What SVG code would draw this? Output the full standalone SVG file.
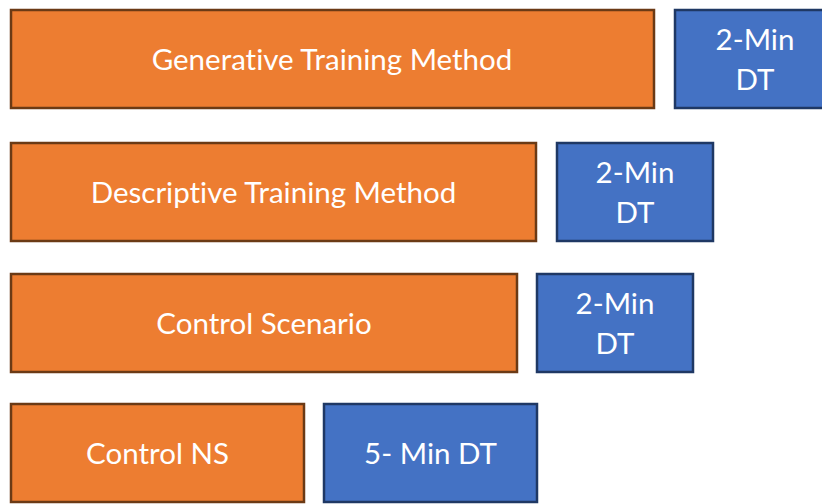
<svg xmlns="http://www.w3.org/2000/svg" width="822" height="504" viewBox="0 0 822 504">
<style>
.o{fill:#ED7D31;stroke:#6B3A15;stroke-width:2.5}
.b{fill:#4472C4;stroke:#1F3864;stroke-width:2.5}
text{font-family:Lato,"Open Sans","Liberation Sans",sans-serif;font-size:29.5px;fill:#fff;text-anchor:middle;font-variant-ligatures:none;font-feature-settings:"liga" 0}
</style>
<rect width="822" height="504" fill="#fff"/>
<g id="gen"><rect class="o" x="11" y="10" width="643" height="98"/><text x="332" y="70">Generative Training Method</text></g>
<g id="gen-dt"><rect class="b" x="675" y="10" width="160" height="98"/><text x="755" y="50">2-Min</text><text x="755" y="90">DT</text></g>
<g id="desc"><rect class="o" x="11" y="143" width="525" height="98"/><text x="273.5" y="203">Descriptive Training Method</text></g>
<g id="desc-dt"><rect class="b" x="557" y="143" width="156" height="98"/><text x="635" y="183">2-Min</text><text x="635" y="223">DT</text></g>
<g id="ctrl"><rect class="o" x="11" y="274" width="506" height="98"/><text x="264" y="334">Control Scenario</text></g>
<g id="ctrl-dt"><rect class="b" x="537" y="274" width="156" height="98"/><text x="615" y="314">2-Min</text><text x="615" y="354">DT</text></g>
<g id="ns"><rect class="o" x="11" y="404" width="293" height="98"/><text x="157.5" y="464">Control NS</text></g>
<g id="ns-dt"><rect class="b" x="324" y="404" width="213" height="98"/><text x="430.5" y="464">5- Min DT</text></g>
<g id="connectors"/>
</svg>
